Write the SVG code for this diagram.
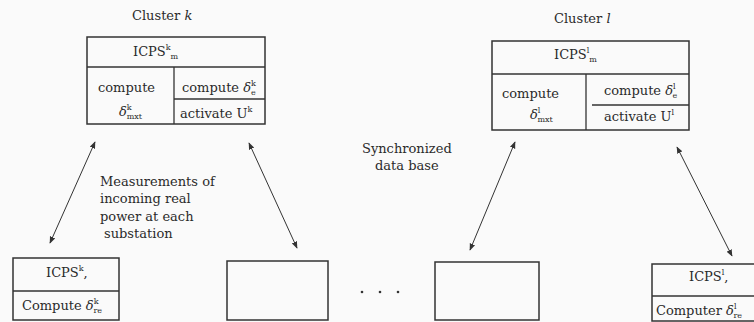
<svg xmlns="http://www.w3.org/2000/svg" width="754" height="322" viewBox="0 0 754 322">
<style>
  text { font-family: "DejaVu Serif", "Liberation Serif", serif; font-size: 13px; fill: #2a2a2a; }
  .sm { font-size: 8px; }
  .it { font-style: italic; }
  .box { fill: none; stroke: #333; stroke-width: 1.5; }
  .div { stroke: #333; stroke-width: 1.3; fill: none; }
  .arr { stroke: #333; stroke-width: 1; fill: none; marker-start: url(#ah); marker-end: url(#ah); }
</style>
<defs>
  <marker id="ah" viewBox="0 0 10 10" refX="9" refY="5" markerWidth="7" markerHeight="7" markerUnits="userSpaceOnUse" orient="auto-start-reverse">
    <path d="M0,1 L10,5 L0,9 z" fill="#333"/>
  </marker>
</defs>
<rect width="754" height="322" fill="#fafafa"/>

<text x="132" y="20">Cluster <tspan class="it">k</tspan></text>
<text x="554" y="23">Cluster <tspan class="it">l</tspan></text>

<g id="icps-k-m">
  <rect class="box" x="87" y="37" width="178" height="87"/>
  <line class="div" x1="87" y1="67" x2="265" y2="67"/>
  <line class="div" x1="174" y1="67" x2="174" y2="124"/>
  <line class="div" x1="174" y1="99" x2="265" y2="99"/>
  <text x="133" y="56">ICPS<tspan class="sm" dy="-6">k</tspan><tspan class="sm" dy="9">m</tspan></text>
  <text x="98" y="92">compute</text>
  <text x="182" y="92">compute <tspan class="it">δ</tspan><tspan class="sm" dy="-6">k</tspan><tspan class="sm" dx="-5" dy="9">e</tspan></text>
  <text x="119" y="116"><tspan class="it">δ</tspan><tspan class="sm" dy="-6">k</tspan><tspan class="sm" dx="-5" dy="9">mxt</tspan></text>
  <text x="180" y="118">activate U<tspan class="sm" dy="-6">k</tspan></text>
</g>

<g id="icps-l-m">
  <rect class="box" x="492" y="41" width="197" height="89"/>
  <line class="div" x1="492" y1="74" x2="689" y2="74"/>
  <line class="div" x1="586" y1="74" x2="586" y2="130"/>
  <line class="div" x1="592" y1="105" x2="689" y2="105"/>
  <text x="554" y="59">ICPS<tspan class="sm" dy="-6">l</tspan><tspan class="sm" dy="9">m</tspan></text>
  <text x="502" y="98">compute</text>
  <text x="604" y="95">compute <tspan class="it">δ</tspan><tspan class="sm" dy="-6">l</tspan><tspan class="sm" dx="-3" dy="9">e</tspan></text>
  <text x="530" y="119"><tspan class="it">δ</tspan><tspan class="sm" dy="-6">l</tspan><tspan class="sm" dx="-3" dy="9">mxt</tspan></text>
  <text x="604" y="121">activate U<tspan class="sm" dy="-6">l</tspan></text>
</g>

<g id="icps-k-r">
  <rect class="box" x="13" y="258" width="106" height="62"/>
  <line class="div" x1="13" y1="291" x2="119" y2="291"/>
  <text x="46" y="277">ICPS<tspan class="sm" dy="-6">k</tspan><tspan dy="6">,</tspan></text>
  <text x="22" y="310">Compute <tspan class="it">δ</tspan><tspan class="sm" dy="-6">k</tspan><tspan class="sm" dx="-5" dy="9">re</tspan></text>
</g>

<g id="box-k2">
  <rect class="box" x="227" y="261" width="101" height="59"/>
</g>

<g id="box-l1">
  <rect class="box" x="435" y="262" width="104" height="58"/>
</g>

<g id="icps-l-r">
  <rect class="box" x="652" y="264" width="110" height="57"/>
  <line class="div" x1="652" y1="296" x2="754" y2="296"/>
  <text x="689" y="281">ICPS<tspan class="sm" dy="-6">l</tspan><tspan dy="6">,</tspan></text>
  <text x="656" y="315">Computer <tspan class="it">δ</tspan><tspan class="sm" dy="-6">l</tspan><tspan class="sm" dx="-3" dy="9">re</tspan></text>
</g>

<g id="dots" fill="#333">
  <circle cx="362" cy="292" r="1.3"/>
  <circle cx="380" cy="292" r="1.3"/>
  <circle cx="398" cy="292" r="1.3"/>
</g>

<g id="labels">
  <text x="100" y="186">Measurements of</text>
  <text x="100" y="203">incoming real</text>
  <text x="100" y="221">power at each</text>
  <text x="104" y="238">substation</text>
  <text x="362" y="153">Synchronized</text>
  <text x="375" y="170">data base</text>
</g>

<g id="connectors">
  <line class="arr" x1="95" y1="142" x2="50" y2="243"/>
  <line class="arr" x1="249" y1="143" x2="297" y2="248"/>
  <line class="arr" x1="515" y1="142" x2="470" y2="250"/>
  <line class="arr" x1="677" y1="147" x2="732" y2="256"/>
</g>
</svg>
